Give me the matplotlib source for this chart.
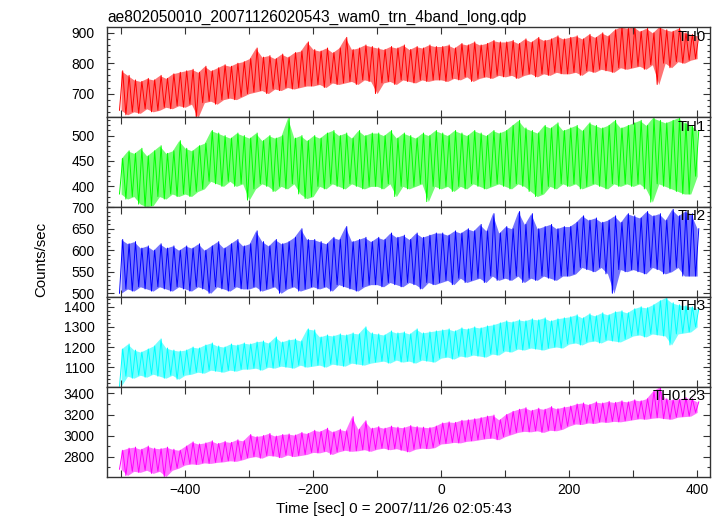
import numpy as np
import matplotlib
matplotlib.use("Agg")
import matplotlib.pyplot as plt
from matplotlib.ticker import MultipleLocator

plt.rcParams['font.family'] = ['Liberation Sans', 'DejaVu Sans']

title = "ae802050010_20071126020543_wam0_trn_4band_long.qdp"
xlabel = "Time [sec] 0 = 2007/11/26 02:05:43"
ylabel = "Counts/sec"
band_names = ["TH0", "TH1", "TH2", "TH3", "TH0123"]
band_colors = ["#ff0000", "#00ff00", "#0000ff", "#00ffff", "#ff00ff"]

# bin centres (sec), 10 s bins
times = list(range(-500, 401, 10))

# envelope (low / high) of the light curve read per 10 s bin
th0_hi = [775, 760, 745, 740, 750, 745, 760, 750, 765, 770,
          775, 780, 770, 790, 775, 785, 795, 790, 800, 805,
          815, 850, 820, 825, 815, 830, 820, 835, 840, 870,
          845, 840, 850, 835, 850, 885, 845, 850, 860, 855,
          850, 845, 855, 850, 860, 845, 855, 850, 860, 855,
          855, 860, 850, 865, 860, 870, 860, 865, 875, 870,
          870, 875, 865, 880, 870, 885, 875, 880, 890, 880,
          885, 890, 880, 895, 885, 900, 890, 910, 920, 915,
          920, 905, 915, 900, 920, 910, 905, 915, 900, 895,
          890]
th0_lo = [645, 630, 640, 635, 650, 640, 645, 655, 650, 660,
          655, 665, 620, 670, 675, 665, 680, 685, 680, 690,
          700, 705, 710, 700, 715, 710, 720, 715, 720, 725,
          725, 730, 720, 735, 730, 735, 740, 730, 745, 740,
          700, 735, 740, 730, 745, 740, 735, 745, 740, 745,
          745, 740, 750, 745, 755, 740, 750, 755, 750, 760,
          755, 760, 750, 760, 765, 755, 765, 760, 770, 765,
          765, 770, 760, 775, 770, 780, 775, 770, 785, 780,
          785, 790, 780, 795, 730, 800, 785, 805, 800, 810,
          815]

th1_hi = [455, 470, 465, 475, 460, 470, 480, 465, 470, 490,
          475, 470, 480, 485, 510, 505, 500, 495, 505, 500,
          495, 505, 490, 500, 495, 500, 535, 495, 500, 490,
          500, 495, 505, 510, 500, 505, 495, 510, 500, 505,
          505, 500, 510, 495, 505, 500, 495, 505, 500, 510,
          505, 500, 510, 505, 500, 510, 505, 500, 510, 505,
          510, 520, 530, 515, 510, 505, 520, 515, 525, 510,
          515, 520, 510, 525, 520, 515, 520, 530, 515, 520,
          525, 530, 520, 535, 530, 525, 530, 535, 525, 520,
          510]
th1_lo = [385, 375, 380, 365, 360, 362, 380, 375, 385, 380,
          385, 380, 390, 395, 410, 405, 400, 410, 400, 405,
          373, 395, 405, 400, 390, 400, 395, 405, 385, 376,
          380, 400, 395, 405, 400, 395, 405, 400, 395, 400,
          400, 395, 405, 380, 400, 395, 400, 405, 370, 400,
          395, 400, 390, 400, 395, 405, 400, 395, 400, 405,
          400, 395, 405, 400, 390, 380, 385, 400, 395, 405,
          400, 405, 395, 400, 405, 400, 395, 405, 400, 405,
          400, 405, 395, 369, 405, 400, 395, 390, 385, 385,
          420]

th2_hi = [625, 615, 620, 605, 610, 600, 615, 605, 610, 600,
          610, 605, 615, 600, 610, 620, 605, 615, 625, 610,
          615, 645, 620, 610, 625, 615, 620, 630, 650, 625,
          625, 620, 615, 630, 625, 655, 620, 625, 630, 620,
          630, 625, 640, 630, 635, 625, 640, 630, 635, 640,
          640, 635, 645, 640, 650, 645, 660, 645, 685, 640,
          655, 650, 690, 660, 685, 650, 655, 660, 650, 655,
          655, 665, 680, 670, 675, 665, 670, 680, 665, 685,
          680, 675, 690, 680, 685, 670, 695, 680, 690, 685,
          650]
th2_lo = [500, 510, 505, 515, 510, 505, 515, 510, 505, 515,
          510, 505, 515, 510, 500, 515, 510, 505, 515, 510,
          510, 515, 505, 510, 515, 500, 510, 515, 505, 510,
          515, 510, 515, 505, 520, 515, 510, 505, 515, 520,
          520, 515, 525, 520, 515, 525, 520, 510, 525, 520,
          525, 530, 520, 535, 525, 530, 535, 525, 540, 530,
          535, 530, 540, 525, 535, 530, 540, 535, 530, 540,
          540, 545, 560, 555, 550, 560, 545, 500, 555, 550,
          555, 550, 545, 560, 555, 545, 550, 560, 540, 540,
          540]

th3_hi = [1190, 1215, 1185, 1175, 1190, 1205, 1240, 1195, 1185, 1180,
          1185, 1200, 1195, 1210, 1220, 1205, 1200, 1215, 1210, 1220,
          1215, 1225, 1230, 1220, 1250, 1225, 1235, 1240, 1230, 1290,
          1285, 1250, 1260, 1255, 1265, 1260, 1270, 1265, 1300, 1270,
          1265, 1260, 1280, 1270, 1275, 1265, 1290, 1270, 1275, 1280,
          1285, 1290, 1280, 1295, 1290, 1300, 1295, 1305, 1310, 1320,
          1330, 1325, 1335, 1330, 1340, 1335, 1345, 1330, 1340, 1345,
          1350, 1360, 1345, 1365, 1355, 1370, 1360, 1375, 1380, 1370,
          1390, 1400, 1395, 1410, 1430, 1445, 1420, 1410, 1405, 1400,
          1390]
th3_lo = [1005, 1055, 1045, 1060, 1050, 1065, 1055, 1045, 1060, 1040,
          1060, 1065, 1075, 1070, 1085, 1080, 1075, 1085, 1080, 1090,
          1090, 1095, 1085, 1100, 1095, 1105, 1100, 1095, 1110, 1100,
          1105, 1110, 1100, 1115, 1110, 1105, 1120, 1115, 1110, 1120,
          1125, 1130, 1120, 1135, 1125, 1130, 1120, 1135, 1130, 1125,
          1145, 1150, 1140, 1155, 1150, 1160, 1155, 1150, 1165, 1160,
          1180, 1175, 1190, 1185, 1195, 1190, 1185, 1195, 1200, 1195,
          1215, 1220, 1210, 1225, 1230, 1220, 1235, 1230, 1225, 1240,
          1255, 1260, 1250, 1265, 1260, 1255, 1210, 1265, 1270, 1275,
          1300]

th0123_hi = [2860, 2880, 2890, 2870, 2900, 2880, 2875, 2890, 2870, 2860,
             2900, 2940, 2920, 2930, 2950, 2925, 2945, 2935, 2960, 2950,
             3010, 2990, 3000, 3020, 2995, 3010, 3015, 3005, 3030, 3020,
             3050, 3040, 3070, 3035, 3060, 3045, 3180, 3060, 3140, 3070,
             3085, 3070, 3090, 3080, 3075, 3095, 3085, 3080, 3075, 3090,
             3120, 3130, 3125, 3145, 3150, 3160, 3170, 3185, 3195, 3150,
             3200, 3230, 3250, 3265, 3240, 3260, 3250, 3275, 3255, 3270,
             3280, 3300, 3310, 3295, 3320, 3310, 3325, 3315, 3330, 3320,
             3340, 3330, 3350, 3420, 3460, 3350, 3340, 3345, 3360, 3350,
             3320]
th0123_lo = [2680, 2620, 2660, 2650, 2670, 2640, 2660, 2610, 2670, 2690,
             2720, 2730, 2725, 2740, 2735, 2745, 2750, 2760, 2755, 2770,
             2790, 2800, 2785, 2810, 2805, 2790, 2815, 2800, 2810, 2820,
             2840, 2835, 2850, 2820, 2845, 2860, 2850, 2855, 2865, 2850,
             2870, 2880, 2865, 2875, 2860, 2845, 2870, 2880, 2875, 2885,
             2920, 2925, 2935, 2930, 2945, 2950, 2960, 2970, 2975, 2960,
             2990, 3010, 3030, 3040, 3035, 3045, 3030, 3050, 3045, 3060,
             3090, 3110, 3105, 3120, 3115, 3130, 3125, 3135, 3130, 3140,
             3150, 3160, 3155, 3165, 3170, 3160, 3155, 3175, 3180, 3185,
             3220]

his = [th0_hi, th1_hi, th2_hi, th3_hi, th0123_hi]
los = [th0_lo, th1_lo, th2_lo, th3_lo, th0123_lo]

ylims = [(622, 918), (359, 536), (491, 700), (1001, 1448), (2606, 3461)]
major = [100, 50, 50, 100, 200]
minor = [20, 10, 10, 20, 100]

fig, axes = plt.subplots(5, 1, sharex=True, figsize=(7.23, 5.16), dpi=100)
fig.subplots_adjust(left=0.148, right=0.982, top=0.947, bottom=0.0756, hspace=0)

t = np.array(times, dtype=float)
for ax, name, col, hi, lo, yl, mj, mn in zip(axes, band_names, band_colors,
                                            his, los, ylims, major, minor):
    hi = np.array(hi, dtype=float)
    lo = np.array(lo, dtype=float)
    xs = np.column_stack([t - 2.5, t + 2.5]).ravel()
    ys = np.column_stack([lo, hi]).ravel()
    ax.fill_between(t, lo, hi, color=col, alpha=0.55, lw=0)
    ax.plot(xs, ys, color=col, lw=0.7)
    ax.set_ylim(*yl)
    ax.set_xlim(-522, 420)
    ax.yaxis.set_major_locator(MultipleLocator(mj))
    ax.yaxis.set_minor_locator(MultipleLocator(mn))
    ax.xaxis.set_major_locator(MultipleLocator(200))
    ax.xaxis.set_minor_locator(MultipleLocator(100))
    ax.tick_params(which='both', direction='in', top=True, right=True,
                   labelsize=10, width=0.8, color='#333333')
    ax.tick_params(axis='y', which='major', length=5, pad=9)
    ax.tick_params(axis='y', which='minor', length=2.5)
    ax.tick_params(axis='x', which='both', length=5, pad=4)
    for s in ax.spines.values():
        s.set_linewidth(1.0)
        s.set_color('#333333')
    ax.text(0.993, 0.975, name, transform=ax.transAxes, ha='right', va='top',
            fontsize=10.7)

axes[0].set_title(title, loc='left', fontsize=11.2, pad=4)
fig.text(0.545, 0.0, xlabel, ha='center', va='bottom', fontsize=10.8)
fig.text(0.0574, 0.497, ylabel, rotation=90, ha='center', va='center', fontsize=10.8)

fig.savefig("out.png", dpi=100)
